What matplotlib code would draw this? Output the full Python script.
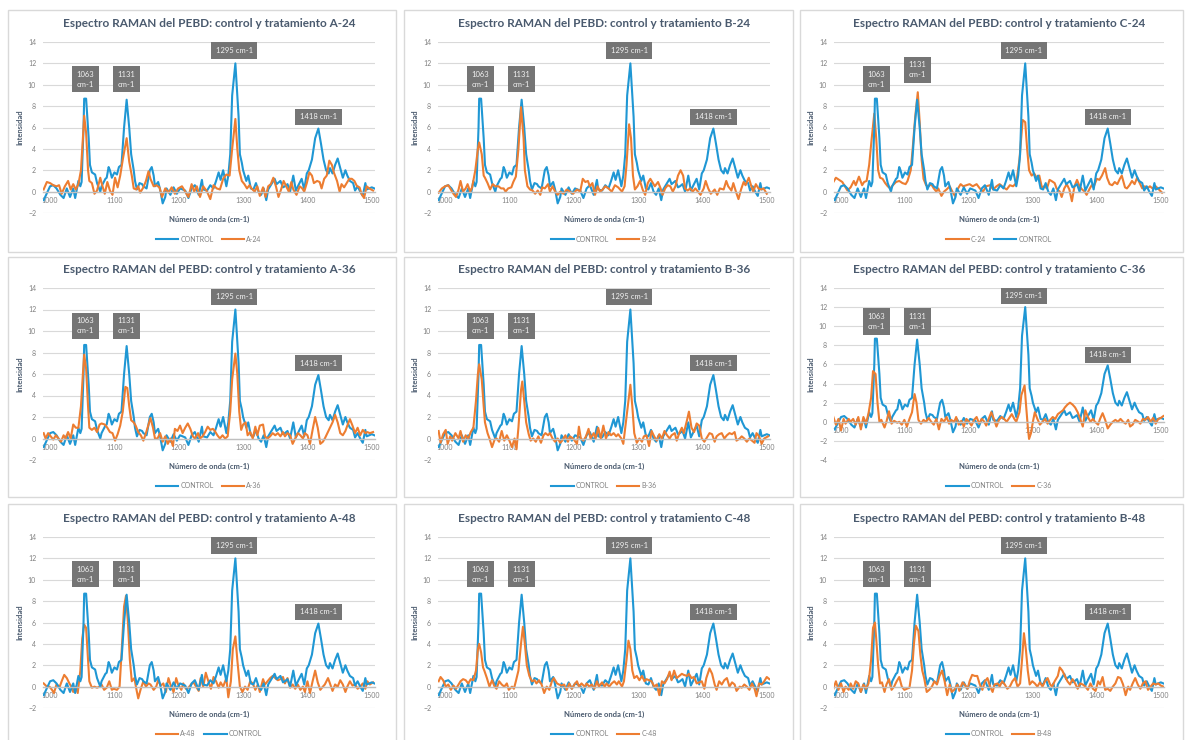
import matplotlib
matplotlib.use("Agg")
import matplotlib.pyplot as plt
from matplotlib.patches import Rectangle

# ---- datos (numero de onda cm-1, intensidad) ----
CONTROL = [
    (990, -0.8), (1000, 0.5), (1005, 0.6), (1010, 0.3), (1016, -0.3), (1021, -0.6), (1026, 0.3),
    (1031, -0.5), (1036, 0.3), (1039, -0.6), (1044, 1.0), (1047, 0.5), (1049, 0.9), (1052, 6.0),
    (1053, 8.7), (1056, 8.7), (1060, 5.0), (1062, 2.5), (1065, 1.8), (1070, 1.6), (1073, 0.8),
    (1078, 0.0), (1080, 0.5), (1086, 1.2), (1088, 1.3), (1091, 2.3), (1093, 2.0), (1096, 1.3),
    (1100, 1.8), (1104, 1.6), (1107, 2.3), (1111, 2.5), (1115, 6.0), (1119, 8.6), (1123, 6.0),
    (1126, 3.5), (1130, 2.0), (1132, 1.0), (1135, 0.2), (1139, 0.8), (1143, 0.7), (1145, 0.5),
    (1150, 0.3), (1155, 2.0), (1158, 2.3), (1161, 1.5), (1163, 0.5), (1168, 0.9), (1171, 0.2),
    (1175, -1.1), (1179, -0.5), (1181, 0.3), (1187, -0.3), (1192, 0.4), (1197, -0.2), (1202, 0.3),
    (1210, 0.1), (1215, -0.6), (1220, 0.3), (1225, 0.6), (1231, -0.3), (1236, 1.1), (1238, 0.2),
    (1244, 0.1), (1249, 0.6), (1254, 0.3), (1258, 1.0), (1262, 1.8), (1265, 1.1), (1269, 2.0),
    (1274, 0.5), (1277, 1.5), (1280, 3.5), (1283, 9.0), (1288, 12.0), (1290, 10.0), (1293, 7.0),
    (1295, 3.5), (1298, 2.7), (1300, 2.0), (1305, 1.0), (1308, 1.5), (1312, 0.3), (1316, 0.2),
    (1320, 0.8), (1324, 0.0), (1328, -0.3), (1332, 0.3), (1336, -0.8), (1339, 0.2), (1345, 0.8),
    (1349, 1.2), (1352, 0.7), (1358, 1.0), (1362, 0.4), (1365, 0.5), (1369, 0.7), (1373, 0.0),
    (1378, 1.5), (1382, 0.1), (1386, 0.6), (1391, 1.2), (1395, 0.2), (1399, 1.7), (1402, 2.0),
    (1407, 3.0), (1412, 5.0), (1417, 5.9), (1421, 4.5), (1425, 3.0), (1429, 2.0), (1433, 1.7),
    (1435, 2.2), (1439, 1.7), (1443, 2.5), (1447, 3.1), (1451, 2.2), (1455, 1.3), (1459, 2.0),
    (1462, 1.5), (1466, 1.0), (1471, 0.8), (1474, 0.1), (1478, 0.5), (1482, 0.0), (1486, -0.4),
    (1490, 0.8), (1492, 0.2), (1496, 0.3), (1500, 0.4), (1504, 0.3),
]

A24 = [
    (990, 0.2), (995, 0.9), (1000, 0.8), (1005, 0.6), (1010, 0.5), (1014, 0.6), (1018, -0.2),
    (1023, 0.5), (1028, 1.0), (1032, 0.2), (1036, 0.7), (1040, 0.2), (1044, 0.7), (1048, 2.0),
    (1051, 5.0), (1053, 7.1), (1056, 5.5), (1059, 2.0), (1061, 1.0), (1065, 0.8), (1069, -0.2),
    (1073, 0.1), (1078, 1.3), (1081, 0.6), (1085, -0.2), (1089, 0.9), (1093, 0.1), (1097, -0.3),
    (1101, 1.3), (1105, 0.4), (1109, 1.5), (1113, 3.0), (1119, 5.0), (1123, 2.8), (1127, 1.5),
    (1130, 0.3), (1134, 0.2), (1137, 0.5), (1140, -0.1), (1145, 0.4), (1149, 1.0), (1153, 1.9),
    (1156, 1.2), (1161, 0.5), (1165, 0.6), (1170, 0.4), (1174, -0.5), (1179, 0.3), (1184, -0.1),
    (1189, 0.4), (1194, -0.2), (1199, 0.3), (1205, 0.5), (1210, 0.0), (1215, -0.5), (1220, 0.7),
    (1224, 0.0), (1228, 0.5), (1233, -0.5), (1238, 0.5), (1244, 0.0), (1249, -0.7), (1254, 0.6),
    (1259, 0.3), (1264, 0.2), (1269, 1.2), (1274, 1.6), (1279, 1.5), (1283, 4.0), (1288, 6.8),
    (1291, 4.0), (1294, 2.0), (1298, 1.0), (1302, 0.7), (1306, 0.3), (1310, 0.6), (1313, 0.3),
    (1318, 0.0), (1322, 0.5), (1326, -0.4), (1331, 0.4), (1335, -0.5), (1339, 0.5), (1343, 0.7),
    (1347, 1.3), (1351, 0.5), (1355, -0.5), (1359, 0.2), (1363, 1.0), (1367, 0.5), (1371, 0.0),
    (1375, 0.9), (1378, 0.2), (1383, -0.3), (1388, 0.5), (1392, 0.3), (1395, 0.0), (1399, 0.8),
    (1403, 1.8), (1407, 1.5), (1410, 0.8), (1415, 1.0), (1419, 0.9), (1422, 0.3), (1426, 1.2),
    (1430, 1.5), (1434, 2.9), (1438, 2.5), (1441, 1.8), (1446, 1.0), (1450, 0.0), (1453, 0.7),
    (1457, 0.4), (1461, 0.8), (1465, 1.2), (1469, 1.2), (1473, 1.0), (1477, 0.5), (1481, 0.4),
    (1484, -0.2), (1488, -0.6), (1492, 0.5), (1496, 0.3), (1502, 0.1),
]

B24 = [
    (990, -0.1), (995, 0.3), (1000, 0.5), (1005, 0.6), (1009, 0.2), (1013, -0.2), (1017, -0.5),
    (1021, 0.2), (1024, 1.0), (1028, 0.0), (1032, 0.3), (1035, 0.7), (1039, 0.0), (1042, 0.4),
    (1047, 2.0), (1051, 4.0), (1053, 4.6), (1057, 3.5), (1060, 1.5), (1062, 1.3), (1066, 0.8),
    (1070, 0.2), (1074, 0.7), (1078, 0.5), (1083, 0.5), (1087, 0.3), (1091, 0.3), (1094, 0.0),
    (1098, 0.3), (1103, 0.4), (1106, 0.9), (1110, 1.4), (1114, 4.0), (1118, 7.9), (1122, 5.0),
    (1124, 2.0), (1128, 0.5), (1132, 0.2), (1136, 0.1), (1140, -0.2), (1144, 0.1), (1148, -0.3),
    (1151, 0.4), (1155, 0.3), (1160, 0.7), (1163, 0.0), (1167, 0.5), (1171, 0.0), (1175, -0.3),
    (1179, 0.0), (1184, -0.2), (1189, 0.2), (1194, 0.0), (1199, -0.2), (1205, 0.2), (1210, 0.0),
    (1214, 1.2), (1218, 0.9), (1222, 1.0), (1225, 0.5), (1229, 0.8), (1233, -0.3), (1237, 0.5),
    (1241, 0.0), (1245, 0.2), (1249, 0.5), (1254, 0.3), (1259, 0.0), (1264, 0.6), (1269, 0.4),
    (1275, 0.0), (1279, 0.5), (1282, 2.5), (1286, 6.3), (1289, 5.0), (1292, 1.5), (1295, 0.2),
    (1299, 0.5), (1303, 1.0), (1307, 0.2), (1311, -0.3), (1315, 0.8), (1319, 1.2), (1322, 0.9),
    (1326, 0.5), (1331, 0.9), (1335, 0.3), (1338, -0.3), (1342, 0.3), (1346, 0.6), (1350, 0.5),
    (1354, 0.0), (1358, 0.5), (1362, 1.5), (1366, 2.0), (1370, 1.5), (1373, 0.3), (1377, 0.1),
    (1381, 0.3), (1385, 0.0), (1389, 0.3), (1393, 0.0), (1397, -0.3), (1402, 0.3), (1405, 1.0),
    (1409, 0.3), (1413, -0.2), (1419, 0.2), (1423, -0.3), (1427, 0.3), (1433, 0.2), (1437, 1.0),
    (1440, 0.5), (1445, 0.1), (1448, 0.8), (1452, 0.0), (1456, -0.7), (1460, 0.2), (1464, 0.9),
    (1467, 0.6), (1472, 1.3), (1476, 0.5), (1479, 0.0), (1483, 0.7), (1487, 0.3), (1491, 0.2),
    (1495, 0.3), (1500, -0.2),
]

C24 = [
    (988, 0.9), (992, 1.3), (997, 1.1), (1002, 0.9), (1006, 0.5), (1010, 0.1), (1015, 0.4),
    (1020, 1.0), (1023, 0.6), (1028, 1.4), (1033, 0.6), (1036, 0.9), (1040, 1.0), (1044, 2.5),
    (1048, 5.0), (1052, 7.3), (1055, 5.0), (1058, 2.0), (1061, 1.3), (1065, 1.2), (1069, 0.8),
    (1073, 0.5), (1077, 0.3), (1081, 0.6), (1086, 0.9), (1091, 1.0), (1096, 0.8), (1101, 0.7),
    (1104, 1.0), (1109, 2.0), (1112, 4.0), (1116, 7.0), (1120, 9.3), (1123, 6.5), (1126, 3.0),
    (1129, 1.2), (1133, 0.6), (1137, 0.5), (1141, 0.7), (1145, 0.3), (1149, 0.0), (1152, 0.3),
    (1157, -0.4), (1161, 0.0), (1165, 0.2), (1170, 0.5), (1174, 0.0), (1178, -0.4), (1182, 0.2),
    (1187, 0.7), (1191, 0.5), (1196, 0.6), (1201, 0.7), (1206, 0.5), (1212, 0.7), (1217, 0.3),
    (1222, 0.0), (1227, 0.5), (1233, 0.6), (1238, 0.2), (1243, 0.5), (1248, 0.7), (1254, 0.4),
    (1259, 0.2), (1264, 0.6), (1269, 0.5), (1274, 0.8), (1279, 3.0), (1284, 6.7), (1288, 6.5),
    (1291, 4.0), (1294, 2.0), (1298, 1.5), (1302, 1.7), (1306, 1.3), (1310, 1.5), (1314, 0.4),
    (1318, 0.5), (1322, 0.3), (1326, 1.1), (1329, 1.0), (1334, 0.8), (1337, 0.3), (1342, 0.0),
    (1345, -0.5), (1349, 0.3), (1353, 0.7), (1357, 0.2), (1361, -0.9), (1365, 0.5), (1369, 1.1),
    (1373, 0.5), (1377, 0.2), (1381, 0.0), (1384, -0.3), (1389, 0.3), (1392, 0.6), (1396, 0.6),
    (1400, 1.2), (1404, 1.1), (1408, 1.5), (1413, 2.2), (1416, 1.3), (1420, 0.7), (1424, 0.6),
    (1428, 0.9), (1432, 0.7), (1436, 1.2), (1439, 1.5), (1444, 0.4), (1447, 0.3), (1451, 0.6),
    (1455, 1.0), (1459, 0.7), (1463, 1.3), (1467, 0.8), (1471, 0.3), (1475, 0.5), (1479, 0.3),
    (1483, 0.5), (1487, 0.3), (1492, 0.5), (1497, 0.2), (1502, -0.1),
]

A36 = [
    (990, 0.5), (993, 0.0), (997, 0.5), (1001, 0.2), (1005, -0.1), (1009, 0.3), (1013, 0.0),
    (1017, -0.3), (1021, 0.3), (1024, 0.0), (1028, 0.6), (1032, 0.0), (1036, 1.3), (1040, 1.0),
    (1044, 1.0), (1048, 3.0), (1051, 6.0), (1053, 7.8), (1056, 6.5), (1059, 3.0), (1061, 1.0),
    (1065, 0.8), (1069, 1.0), (1073, 0.6), (1077, 1.3), (1080, 1.4), (1085, 1.3), (1089, 1.0),
    (1093, 0.6), (1097, 0.5), (1101, -0.2), (1105, 0.4), (1109, 1.2), (1113, 2.5), (1117, 4.8),
    (1120, 4.7), (1123, 3.0), (1126, 1.7), (1130, 1.5), (1133, 1.2), (1137, 0.6), (1141, 0.3),
    (1145, -0.2), (1149, 0.5), (1153, 1.3), (1156, 1.9), (1160, 1.0), (1163, 0.0), (1167, 0.0),
    (1171, 0.5), (1175, -0.3), (1179, 0.2), (1183, -0.5), (1187, 0.0), (1191, -0.7), (1194, 0.9),
    (1198, 0.7), (1202, 1.2), (1206, 0.5), (1210, 1.0), (1214, 1.4), (1218, 0.9), (1222, 0.2),
    (1225, 0.0), (1230, 0.5), (1233, 0.0), (1237, 0.2), (1241, 0.6), (1245, 1.1), (1249, 0.8),
    (1253, 0.9), (1256, 0.7), (1260, 0.3), (1264, 0.0), (1268, 0.3), (1272, 0.0), (1276, 0.2),
    (1280, 2.5), (1283, 5.5), (1288, 7.9), (1291, 6.0), (1294, 2.5), (1297, 0.8), (1300, 1.3),
    (1304, 1.5), (1307, 0.3), (1311, 0.6), (1315, 0.0), (1319, 1.1), (1322, 0.3), (1326, 1.2),
    (1331, 1.3), (1334, 0.2), (1338, 0.0), (1342, 0.2), (1346, 0.5), (1350, 0.3), (1354, 0.5),
    (1358, 0.2), (1362, 0.6), (1365, 0.2), (1369, 0.5), (1373, 0.3), (1377, -0.5), (1381, 0.0),
    (1385, 0.5), (1389, 0.3), (1393, 0.0), (1396, 0.5), (1400, 0.3), (1404, -0.5), (1408, 0.8),
    (1412, 2.0), (1416, 1.0), (1420, -0.5), (1424, -0.3), (1427, 0.0), (1431, 0.5), (1435, 1.0),
    (1439, 1.5), (1443, 2.2), (1447, 1.5), (1451, 0.5), (1455, 0.3), (1459, 0.7), (1462, 1.2),
    (1466, 1.8), (1470, 1.2), (1474, 0.5), (1478, 1.0), (1482, 0.3), (1486, 0.8), (1490, 0.5),
    (1493, 0.6), (1497, 0.5), (1502, 0.6),
]

B36 = [
    (990, 0.7), (993, -0.4), (997, 0.4), (1001, 0.8), (1004, -0.5), (1008, 0.2), (1011, -0.2),
    (1016, 0.5), (1021, 0.0), (1024, 0.7), (1028, -0.3), (1032, 0.3), (1036, 0.0), (1040, 0.6),
    (1044, 1.0), (1048, 3.5), (1051, 6.0), (1053, 6.9), (1057, 5.5), (1060, 3.0), (1062, 1.5),
    (1066, 0.5), (1069, 0.0), (1073, -0.8), (1077, -0.1), (1080, 0.0), (1084, -0.3), (1088, 0.7),
    (1092, -0.2), (1096, 0.3), (1100, -0.2), (1104, -0.8), (1108, 0.0), (1111, -1.0), (1114, 1.0),
    (1118, 4.5), (1120, 5.3), (1123, 3.5), (1126, 1.5), (1130, 0.4), (1133, -0.2), (1137, 0.0),
    (1141, -0.3), (1145, 0.2), (1149, -0.4), (1153, 0.3), (1156, 0.5), (1160, 0.3), (1163, 0.5),
    (1167, 0.0), (1171, -0.3), (1175, 0.0), (1179, -0.4), (1182, -0.2), (1187, 0.3), (1191, -0.3),
    (1194, 0.2), (1199, 0.0), (1205, -0.5), (1208, 1.1), (1211, 0.0), (1215, -0.2), (1219, 0.2),
    (1223, 0.9), (1226, 0.0), (1231, 0.5), (1234, 0.0), (1238, 1.0), (1242, 0.0), (1246, 1.2),
    (1250, 0.0), (1254, 0.6), (1258, 0.3), (1262, 0.5), (1266, 0.2), (1269, 0.4), (1274, 0.0),
    (1277, -0.5), (1281, 1.5), (1285, 3.5), (1288, 5.0), (1291, 3.0), (1294, 0.5), (1298, -0.4),
    (1302, 0.0), (1306, -0.3), (1309, 0.2), (1313, 0.3), (1317, -0.7), (1321, 0.7), (1325, 0.2),
    (1329, -0.2), (1333, 0.4), (1337, 0.0), (1341, 0.7), (1345, 0.3), (1349, 0.0), (1352, 0.3),
    (1357, 0.5), (1360, -0.2), (1364, 0.5), (1368, 1.0), (1371, 0.5), (1376, 1.7), (1379, 2.5),
    (1383, 1.0), (1387, 0.6), (1391, 1.4), (1395, 1.2), (1399, 0.0), (1403, -0.3), (1406, 0.0),
    (1411, 0.5), (1415, 0.4), (1419, -0.3), (1422, 0.2), (1426, 0.4), (1430, 0.5), (1434, 0.0),
    (1438, 0.3), (1442, 0.5), (1446, 0.4), (1450, 0.6), (1453, -0.2), (1458, 0.0), (1461, 0.2),
    (1465, 0.0), (1469, -0.3), (1473, 0.0), (1477, -0.2), (1481, -0.4), (1484, 0.5), (1488, 0.2),
    (1492, -0.5), (1496, 0.0), (1502, 0.2),
]

C36 = [
    (988, 0.5), (992, -0.3), (996, 0.3), (1000, -0.9), (1004, 0.3), (1007, -0.2), (1012, 0.3),
    (1015, 0.0), (1019, 0.3), (1023, -0.3), (1027, 0.5), (1031, -0.8), (1035, 0.5), (1039, -0.2),
    (1043, 0.9), (1047, 2.5), (1050, 5.3), (1054, 5.0), (1057, 2.0), (1060, 0.0), (1063, 0.2),
    (1068, -0.6), (1071, 0.0), (1075, 1.1), (1079, -0.2), (1083, 0.1), (1088, -0.1), (1091, 0.0),
    (1095, -0.3), (1099, 0.2), (1103, -0.5), (1107, 0.3), (1111, 1.0), (1115, 2.9), (1118, 2.0),
    (1121, 0.2), (1125, -0.2), (1129, 0.2), (1133, 0.0), (1137, 0.4), (1141, 0.0), (1145, -0.3),
    (1149, 0.3), (1153, -0.8), (1157, 0.3), (1161, 0.0), (1165, 0.5), (1169, -0.2), (1172, 0.2),
    (1177, 0.0), (1180, 0.5), (1184, -0.3), (1188, 0.1), (1192, -0.5), (1196, 0.3), (1200, 0.0),
    (1204, -0.4), (1208, 0.2), (1212, 0.5), (1216, -0.2), (1220, 0.3), (1224, 0.0), (1227, -0.4),
    (1232, 0.5), (1235, 1.0), (1239, 0.3), (1243, -0.5), (1247, 0.2), (1251, 0.5), (1255, 0.3),
    (1259, 0.0), (1263, 0.4), (1267, 0.8), (1271, 0.3), (1274, 0.0), (1279, 1.0), (1282, 2.8),
    (1287, 3.8), (1289, 2.0), (1292, -0.5), (1294, -1.8), (1297, -1.2), (1300, 0.0), (1303, 1.0),
    (1307, 0.3), (1311, -0.3), (1315, 0.0), (1319, 0.3), (1323, -0.2), (1327, 0.2), (1331, 0.5),
    (1335, 0.3), (1339, 0.8), (1343, 1.0), (1347, 1.2), (1350, 1.5), (1354, 1.8), (1358, 2.0),
    (1362, 1.8), (1366, 1.5), (1370, 1.0), (1374, 0.3), (1378, -0.5), (1382, 1.2), (1386, 0.5),
    (1390, 0.0), (1394, 0.3), (1397, 0.0), (1402, -0.3), (1405, 0.3), (1409, 0.9), (1413, 0.2),
    (1417, -0.7), (1421, -0.3), (1425, 0.0), (1429, 0.2), (1433, 0.0), (1437, 0.3), (1441, 0.0),
    (1445, -0.2), (1449, 0.2), (1452, -0.5), (1456, -0.3), (1460, 0.2), (1465, 0.0), (1468, -0.2),
    (1472, 0.3), (1476, 0.2), (1480, 0.5), (1484, 0.0), (1488, 0.4), (1492, -0.2), (1496, 0.3),
    (1500, 0.4), (1504, 0.6),
]

A48 = [
    (990, 0.3), (995, 0.0), (999, 0.0), (1003, -0.3), (1006, -0.6), (1010, 0.2), (1015, 0.0),
    (1018, 0.5), (1022, 1.1), (1026, 0.8), (1030, 0.3), (1033, 0.0), (1036, -0.5), (1040, 0.0),
    (1043, -0.6), (1047, 1.5), (1050, 4.5), (1053, 5.8), (1056, 5.5), (1059, 2.5), (1061, 0.5),
    (1065, -0.1), (1069, 0.0), (1073, -0.1), (1077, 0.0), (1080, 0.2), (1084, -0.3), (1088, -0.1),
    (1092, 0.5), (1096, -0.3), (1099, -0.2), (1104, -0.3), (1108, 0.0), (1111, 3.0), (1115, 7.5),
    (1118, 8.5), (1121, 6.0), (1124, 2.5), (1127, 0.5), (1131, 0.8), (1134, -0.2), (1137, -1.1),
    (1141, -0.2), (1145, 0.5), (1149, 0.0), (1153, 0.3), (1156, 0.2), (1161, -0.3), (1165, 0.0),
    (1168, 0.6), (1172, 0.1), (1176, 0.3), (1180, -0.5), (1184, 0.8), (1188, 0.0), (1192, -0.5),
    (1196, 0.8), (1199, 0.2), (1204, -0.3), (1207, 0.3), (1211, -0.2), (1215, -0.1), (1219, 0.2),
    (1223, 0.4), (1227, 0.0), (1231, -0.4), (1234, 0.8), (1238, 0.0), (1242, 1.3), (1246, 0.5),
    (1250, -0.2), (1254, 0.9), (1258, 0.5), (1262, -0.1), (1265, 0.4), (1269, 0.0), (1274, 0.8),
    (1277, -1.0), (1281, 0.5), (1284, 3.5), (1288, 4.7), (1291, 2.5), (1295, 0.0), (1299, -0.5),
    (1303, 0.0), (1307, -0.3), (1311, 0.5), (1315, 0.3), (1319, -0.3), (1323, 0.2), (1326, -0.5),
    (1331, 0.7), (1334, 0.2), (1338, 0.5), (1342, 0.8), (1346, 1.0), (1350, 0.8), (1354, 0.6),
    (1358, 0.7), (1362, 0.9), (1365, 0.3), (1369, 0.8), (1373, -0.1), (1377, 0.2), (1381, -0.2),
    (1385, 0.2), (1389, -0.3), (1393, 0.0), (1396, -0.5), (1400, 0.5), (1404, -0.6), (1408, 0.5),
    (1412, 1.5), (1416, 0.4), (1420, -0.3), (1424, 0.0), (1427, 0.2), (1432, 0.8), (1435, 0.3),
    (1439, -0.4), (1443, 0.2), (1447, 0.0), (1451, 0.6), (1455, 0.2), (1459, -0.5), (1462, 0.0),
    (1466, 0.5), (1470, 0.1), (1474, 0.2), (1478, -0.2), (1482, 0.0), (1486, 0.3), (1490, -0.2),
    (1493, 0.5), (1497, 0.2), (1502, 0.4),
]

C48 = [
    (990, 0.5), (993, 0.9), (997, 0.6), (1001, 0.0), (1005, 0.2), (1009, -0.3), (1013, 0.1),
    (1017, -0.2), (1021, 0.2), (1024, 0.5), (1028, 0.7), (1032, 0.6), (1036, 0.3), (1040, 0.7),
    (1044, 0.6), (1048, 1.5), (1051, 3.5), (1053, 4.0), (1056, 3.2), (1059, 1.8), (1061, 1.5),
    (1065, 0.8), (1069, 0.0), (1073, 0.6), (1077, 0.0), (1080, -0.2), (1084, 0.5), (1088, 0.2),
    (1092, 0.0), (1096, 0.3), (1099, -0.3), (1104, 0.0), (1107, -0.2), (1110, 0.5), (1114, 1.5),
    (1118, 4.0), (1121, 5.6), (1124, 4.0), (1127, 2.0), (1131, 1.0), (1135, 0.5), (1139, 0.6),
    (1142, 0.3), (1146, 0.6), (1150, 0.2), (1154, -0.6), (1158, 0.0), (1162, -0.3), (1166, 0.5),
    (1169, 0.8), (1174, 0.3), (1177, 0.2), (1181, 0.1), (1185, 0.2), (1189, -0.3), (1193, 0.3),
    (1197, -0.2), (1201, 0.2), (1205, 0.5), (1208, 0.0), (1212, 0.3), (1217, 0.0), (1220, 0.3),
    (1224, 0.0), (1228, 0.2), (1232, -0.2), (1236, 0.5), (1239, 0.0), (1244, 0.4), (1248, 0.0),
    (1251, 0.3), (1255, 0.0), (1259, 0.3), (1263, 0.5), (1267, 0.2), (1270, 0.5), (1275, 0.0),
    (1278, 0.5), (1282, 2.5), (1285, 4.3), (1288, 3.5), (1291, 1.5), (1294, 0.8), (1298, 1.0),
    (1302, 0.6), (1306, 1.0), (1310, 0.5), (1313, 0.7), (1317, 0.6), (1321, 0.5), (1325, 0.0),
    (1329, 0.2), (1333, -0.8), (1337, 0.5), (1341, 0.3), (1345, 0.7), (1349, 1.4), (1352, 0.6),
    (1356, 1.5), (1360, 0.8), (1364, 1.0), (1368, 1.2), (1371, 1.1), (1376, 1.0), (1379, 1.2),
    (1383, 0.8), (1387, 0.9), (1391, 0.3), (1395, 0.4), (1399, 0.5), (1403, -0.2), (1406, 0.8),
    (1411, 1.7), (1415, 1.2), (1419, 0.2), (1422, -0.3), (1426, 0.5), (1430, 0.2), (1434, 0.6),
    (1438, 0.8), (1442, 0.0), (1446, 0.4), (1450, 0.2), (1453, -0.4), (1458, 0.0), (1461, -0.1),
    (1465, 0.2), (1469, 0.0), (1473, -0.3), (1477, 0.3), (1481, -0.2), (1484, -0.9), (1488, 0.3),
    (1492, 0.2), (1496, 0.5), (1500, 0.9), (1504, 0.7),
]

B48 = [
    (988, -0.2), (992, 0.5), (996, -0.3), (1000, 0.3), (1004, -0.5), (1007, 0.0), (1012, -0.3),
    (1015, 0.3), (1019, -0.2), (1023, 0.5), (1027, 0.3), (1031, -0.5), (1035, 0.2), (1039, -0.2),
    (1043, 0.3), (1047, 2.5), (1050, 5.5), (1053, 6.0), (1055, 4.5), (1058, 2.0), (1061, 0.3),
    (1064, 0.4), (1068, -0.5), (1071, 0.2), (1075, 0.7), (1079, -0.3), (1083, 0.0), (1087, 0.5),
    (1091, 0.9), (1095, 0.0), (1099, -0.3), (1103, -0.2), (1107, -0.1), (1111, 1.5), (1114, 4.0),
    (1117, 5.7), (1121, 5.2), (1124, 3.0), (1127, 1.5), (1130, 0.8), (1134, -0.5), (1138, -0.3),
    (1142, 0.0), (1146, 0.5), (1150, 0.2), (1154, 1.0), (1158, 1.5), (1162, 0.5), (1166, -0.8),
    (1170, 0.2), (1173, -0.5), (1177, -0.3), (1182, 0.2), (1185, -0.4), (1190, 0.4), (1193, 0.2),
    (1198, -0.2), (1201, 0.5), (1205, 1.1), (1209, 1.0), (1213, 1.0), (1217, 0.2), (1221, -0.3),
    (1225, 0.5), (1229, 0.8), (1233, 0.0), (1237, -0.5), (1240, 0.2), (1245, 0.3), (1248, 0.0),
    (1252, 0.5), (1256, 0.2), (1260, -0.2), (1264, 0.0), (1268, 0.5), (1272, 0.8), (1276, 0.0),
    (1280, 0.3), (1283, 2.5), (1286, 5.0), (1289, 3.5), (1292, 1.5), (1295, 0.2), (1299, 0.5),
    (1303, 0.3), (1307, 0.0), (1311, 0.4), (1315, 0.0), (1319, 0.5), (1323, 0.8), (1327, 0.2),
    (1330, 0.0), (1334, 0.5), (1339, 1.0), (1342, 1.8), (1346, 1.5), (1350, 1.0), (1354, 0.5),
    (1358, 0.2), (1362, 0.7), (1366, 0.3), (1370, -0.2), (1374, 0.3), (1378, 0.2), (1382, 0.0),
    (1386, -0.3), (1390, 0.3), (1394, -0.2), (1398, -0.4), (1402, 0.5), (1405, 0.2), (1409, 0.9),
    (1413, -0.3), (1417, -0.2), (1421, -0.4), (1425, 0.0), (1429, 0.3), (1433, 0.9), (1437, 0.8),
    (1441, 0.2), (1445, -0.8), (1449, 0.0), (1452, -0.3), (1456, 0.3), (1460, 0.8), (1464, 0.2),
    (1468, -0.2), (1472, 0.3), (1476, 0.5), (1480, -0.3), (1484, 0.0), (1488, 0.3), (1492, 0.2),
    (1496, 0.3), (1500, 0.1), (1504, 0.0),
]

# etiquetas de bandas y orden de paneles
BAND_LABELS = ["1063\ncm-1", "1131\ncm-1", "1295 cm-1", "1418 cm-1"]
PANELS = [
    ("A-24", A24, True), ("B-24", B24, True), ("C-24", C24, False),
    ("A-36", A36, True), ("B-36", B36, True), ("C-36", C36, True),
    ("A-48", A48, False), ("C-48", C48, True), ("B-48", B48, True),
]

BLUE = "#1f97d4"
ORANGE = "#ed7d31"
TXT = "#4a5a6e"
TICK = "#808080"

W, H = 1186, 740
fig = plt.figure(figsize=(W / 100, H / 100), dpi=100)
fig.patch.set_facecolor("white")
plt.rcParams["font.family"] = ["Lato", "DejaVu Sans"]

COL_BOX = [(8, 396), (404, 793), (800, 1183)]
ROW_BOX = [(10, 252), (257, 497), (504, 760)]
COL_PLOT = [(43, 375), (438, 770), (834, 1164)]
ROW_PLOT = [(42, 213), (288, 460), (537, 708)]

# posiciones de las cajas (data coords)
BOX_POS = [(1055, 10.5), (1119, 10.5), (1286, 13.2), (1417, 7.0)]


def px_axes(left, top, right, bottom):
    return fig.add_axes([left / W, 1 - bottom / H, (right - left) / W, (bottom - top) / H])


for i, (name, series, control_first) in enumerate(PANELS):
    r, c = divmod(i, 3)
    bx0, bx1 = COL_BOX[c]
    by0, by1 = ROW_BOX[r]
    fig.patches.append(Rectangle((bx0 / W, 1 - by1 / H), (bx1 - bx0) / W, (by1 - by0) / H,
                                 transform=fig.transFigure, fill=False,
                                 edgecolor="#d9d9d9", linewidth=1.0))
    left, right = COL_PLOT[c]
    top, bottom = ROW_PLOT[r]
    ax = px_axes(left, top, right, bottom)
    ymin = -4 if name == "C-36" else -2

    cx, cy = zip(*CONTROL)
    tx, ty = zip(*series)
    entries = [("CONTROL", cx, cy, BLUE), (name, tx, ty, ORANGE)]
    if not control_first:
        entries = entries[::-1]
    for lab, xs, ys, col in entries:
        ax.plot(xs, ys, color=col, lw=1.5, label=lab, solid_joinstyle="round")

    ax.set_xlim(989, 1505)
    ax.set_ylim(ymin, 14)
    ax.set_yticks(range(ymin, 15, 2))
    ax.set_xticks([1000, 1100, 1200, 1300, 1400, 1500])
    ax.yaxis.grid(True, color="#d9d9d9", lw=0.8)
    ax.set_axisbelow(True)
    for s in ("top", "left", "right"):
        ax.spines[s].set_visible(False)
    ax.spines["bottom"].set_position(("data", 0))
    ax.spines["bottom"].set_color("#bfbfbf")
    ax.spines["bottom"].set_linewidth(1.0)
    ax.tick_params(axis="both", length=0, labelsize=5, labelcolor=TICK)
    ax.tick_params(axis="y", pad=5)
    ax.tick_params(axis="x", pad=4)

    for k, (lab, (bxp, byp)) in enumerate(zip(BAND_LABELS, BOX_POS)):
        if name == "C-24" and k == 1:
            byp = 11.4
        ax.text(bxp, byp, lab, ha="center", va="center", fontsize=5.5, color="#f2f2f2",
                linespacing=1.5, zorder=6,
                bbox=dict(boxstyle="square,pad=0.6", fc="#757575", ec="none"))

    h = bottom - top
    ax.set_title(f"Espectro RAMAN del PEBD: control y tratamiento {name}",
                 fontsize=8.5, fontweight="bold", color=TXT, pad=11)
    ax.set_xlabel("Número de onda (cm-1)", fontsize=5.5, fontweight="bold", color=TXT,
                  labelpad=0)
    ax.xaxis.set_label_coords(0.5, -6 / h, transform=ax.transAxes)
    ax.xaxis.label.set_va("center")
    ax.set_ylabel("Intensidad", fontsize=5.5, fontweight="bold", color=TXT)
    ax.yaxis.set_label_coords(-20 / (right - left), 0.5)
    ax.legend(loc="center", bbox_to_anchor=(0.5, -26 / h), ncol=2, frameon=False,
              fontsize=5, handlelength=3.2, columnspacing=1.2, labelcolor=TICK,
              handletextpad=0.3)

fig.savefig("out.png", dpi=100, facecolor="white")
